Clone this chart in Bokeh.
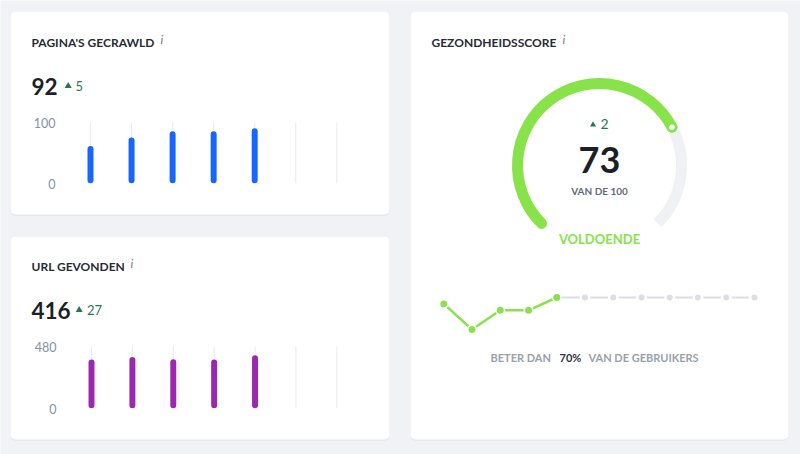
import math
from bokeh.plotting import figure
from bokeh.models import Range1d
from bokeh.core.properties import value
from bokeh.embed import file_html
from bokeh.resources import INLINE

# ---------------- data ----------------
slots = [0, 1, 2, 3, 4, 5, 6]            # 7 weekly slots, 5 filled

crawled_title = "PAGINA'S GECRAWLD"
crawled_total = "92"
crawled_delta = "5"
crawled_values = [61, 75, 85, 85, 90]
crawled_ticks = [0, 100]
crawled_tick_labels = ["0", "100"]

urls_title = "URL GEVONDEN"
urls_total = "416"
urls_delta = "27"
urls_values = [378, 397, 379, 378, 410]
urls_ticks = [0, 480]
urls_tick_labels = ["0", "480"]

health_title = "GEZONDHEIDSSCORE"
health_score = 73
health_max = 100
health_delta = "2"
health_label = "VOLDOENDE"
health_sub = "VAN DE 100"
health_history = [72, 68, 71, 71, 73]
health_future = [73, 73, 73, 73, 73, 73, 73]
percentile_pre = "BETER DAN"
percentile = "70%"
percentile_post = "VAN DE GEBRUIKERS"

# ---------------- styles ----------------
FONT = value("Lato")
BG = "#f1f2f6"
TITLE_C = "#272c35"
NUM_C = "#1b1f27"
DELTA_C = "#1f7a4d"
TICK_C = "#7f93a3"
GRID_C = "#ebebef"
BLUE = "#1766ff"
PURPLE = "#9c27b0"
GREEN = "#88e24a"
TRACK = "#f0f1f4"
DOT_GRAY = "#dcdde5"
BASE_SHIFT = 0.36   # renderer draws alphabetic text lower by this fraction of the size

p = figure(width=800, height=454, x_range=Range1d(0, 800), y_range=Range1d(454, 0),
           output_backend="svg", toolbar_location=None, min_border=0,
           x_axis_type=None, y_axis_type=None,
           background_fill_color=BG, border_fill_color=BG, outline_line_color=None)
p.xgrid.visible = False
p.ygrid.visible = False

# cards
cl = [10, 10, 410]
cr = [389, 389, 788]
ct = [11, 236, 11]
cb = [214, 439, 439]
p.quad(left=[v - 0.5 for v in cl], right=[v + 0.5 for v in cr], top=[v - 0.5 for v in ct],
       bottom=[v + 1.5 for v in cb], fill_color="#e4e6ec", fill_alpha=0.7, line_color=None,
       border_radius=6)
p.quad(left=cl, right=cr, top=ct, bottom=cb, fill_color="white", line_color=None, border_radius=5)


def txt(x, y, s, size, color, style="normal", align="left"):
    p.text(x=[x], y=[y - BASE_SHIFT * size], text=[s], text_font=FONT,
           text_font_size=f"{size}px", text_font_style=style, text_color=color,
           text_align=align, text_baseline="alphabetic")


def bar_card(title, info_x, top_off, total, delta, tri_x, delta_x, values, ticks, tick_labels,
             color, x_t, y_t):
    txt(31, 46.7 + top_off, title, 12, TITLE_C, "bold")
    txt(info_x, 43.5 + top_off, "i", 12, "#6d7a8a", "italic")
    txt(31, 94.3 + top_off, total, 22.5, NUM_C, "bold")
    p.scatter(x=[tri_x], y=[85.6 + top_off], marker="triangle", size=7, fill_color=DELTA_C,
              line_color=None)
    txt(delta_x, 90.2 + top_off, delta, 13, DELTA_C)
    s = p.subplot(x_source=Range1d(0, 6), y_source=Range1d(0, ticks[-1]),
                  x_target=Range1d(*x_t), y_target=Range1d(*y_t))
    s.segment(x0=slots, y0=0, x1=slots, y1=ticks[-1], line_color=GRID_C, line_width=1)
    s.vbar(x=slots[:len(values)], top=values, bottom=0, width=0.146, fill_color=color,
           line_color=None, border_radius=3)
    s.text(x=0, y=ticks, text=tick_labels, x_offset=-35, y_offset=0.5, text_align="right",
           text_baseline="middle", text_font=FONT, text_font_size="12.5px", text_color=TICK_C)


bar_card(crawled_title, 160, 0, crawled_total, crawled_delta, 67.7, 75, crawled_values,
         crawled_ticks, crawled_tick_labels, BLUE, (90, 336.3), (182.7, 121.7))
bar_card(urls_title, 130, 224, urls_total, urls_delta, 78.7, 86.5, urls_values,
         urls_ticks, urls_tick_labels, PURPLE, (91, 336.3), (407.7, 345.7))

# ---------------- gauge card ----------------
txt(431, 46.7, health_title, 12, TITLE_C, "bold")
txt(562, 43.5, "i", 12, "#6d7a8a", "italic")

gcx, gcy, gr = 599, 165, 82
start_deg, span_deg = 225, 270
end_deg = start_deg - span_deg * health_score / health_max
p.arc(x=[gcx], y=[gcy], radius=gr, start_angle=math.radians(end_deg),
      end_angle=math.radians(start_deg - span_deg), direction="clock",
      line_color=TRACK, line_width=11, line_cap="butt")
p.arc(x=[gcx], y=[gcy], radius=gr, start_angle=math.radians(start_deg),
      end_angle=math.radians(end_deg), direction="clock",
      line_color=GREEN, line_width=11, line_cap="round")
p.scatter(x=[gcx + gr * math.cos(math.radians(end_deg))],
          y=[gcy - gr * math.sin(math.radians(end_deg))],
          marker="circle", size=8, fill_color="white", line_color=GREEN, line_width=2.5)

p.scatter(x=[592.5], y=[124.2], marker="triangle", size=6, fill_color=DELTA_C, line_color=None)
txt(600, 128.4, health_delta, 14, DELTA_C)
txt(599, 172.7, str(health_score), 36, NUM_C, "bold", "center")
txt(599, 194.3, health_sub, 10, "#5f6b7a", "bold", "center")
txt(599, 242.7, health_label, 13, GREEN, "bold", "center")

# history line
s3 = p.subplot(x_source=Range1d(0, 11), y_source=Range1d(68, 73),
               x_target=Range1d(443.3, 754), y_target=Range1d(329, 297))
hx = list(range(len(health_history)))
fx = list(range(len(health_history) - 1, len(health_history) + len(health_future)))
fy = [health_history[-1]] + health_future
s3.line(x=fx, y=fy, line_color=DOT_GRAY, line_width=2)
s3.line(x=hx, y=health_history, line_color=GREEN, line_width=2.5)
s3.scatter(x=fx[1:], y=fy[1:], marker="circle", size=8.5, fill_color=DOT_GRAY,
           line_color="white", line_width=2.5)
s3.scatter(x=hx, y=health_history, marker="circle", size=8.5, fill_color=GREEN,
           line_color="white", line_width=1.5)

txt(490, 361, percentile_pre, 11, "#9aa1ab", "bold")
txt(559, 361, percentile, 11, "#2c3440", "bold")
txt(588, 361, percentile_post, 11, "#9aa1ab", "bold")

open("out.html", "w").write(file_html(p, INLINE))
